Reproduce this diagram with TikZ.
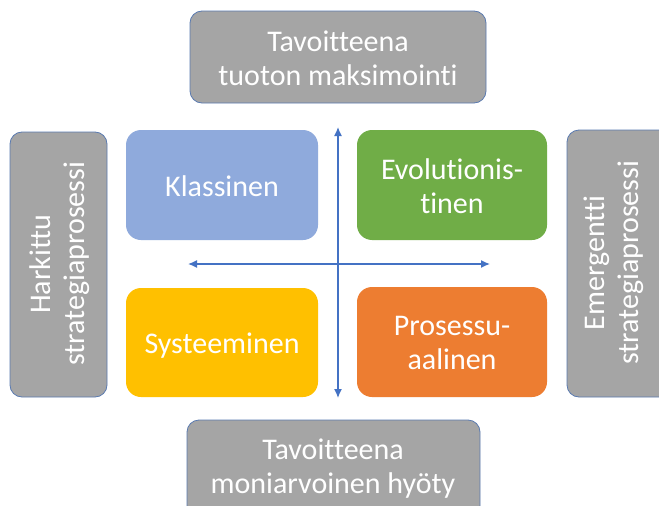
\documentclass[tikz,border=0pt]{standalone}
\usepackage{fontspec}
\setmainfont{Carlito}[Ligatures=NoCommon]
\usetikzlibrary{arrows.meta}
\definecolor{qblue}{HTML}{8FAADC}
\definecolor{qgreen}{HTML}{70AD47}
\definecolor{qgold}{HTML}{FFC000}
\definecolor{qorange}{HTML}{ED7D31}
\definecolor{qgrey}{HTML}{A5A5A5}
\definecolor{qedge}{HTML}{5A7AB0}
\definecolor{qaxis}{HTML}{4472C4}
\tikzset{
  quadrant/.style={rounded corners=15pt},
  sidebox/.style={fill=qgrey, draw=qedge, line width=0.8pt, rounded corners=12pt},
  label/.style={text=white, align=center, font=\fontsize{30}{34}\selectfont},
  axis/.style={draw=qaxis, line width=1.4pt, {Latex[length=9pt,width=8pt]}-{Latex[length=9pt,width=8pt]}}
}
\begin{document}
\begin{tikzpicture}[x=1pt, y=-1pt]
  \clip (0,0) rectangle (659,506);
  \fill[white] (0,0) rectangle (659,506);

  % grey framing boxes
  \draw[sidebox] (190,11) rectangle (486,103);
  \draw[sidebox] (187,420) rectangle (480,530);
  \draw[sidebox] (10,132) rectangle (107,397);
  \draw[sidebox] (567,130) rectangle (690,397);

  \node[label] (top) at (338,58) {Tavoitteena\\tuoton maksimointi};
  \node[label] (bottom) at (333,469) {Tavoitteena\\moniarvoinen hyöty};
  \node[label, rotate=90] (left) at (60,264) {Harkittu\\strategiaprosessi};
  \node[label, rotate=90] (right) at (614,263) {Emergentti\\strategiaprosessi};

  % the four strategy schools
  \fill[quadrant, qblue] (126,130) rectangle (318,240);
  \fill[quadrant, qgreen] (357,130) rectangle (547,240);
  \fill[quadrant, qgold] (126,288) rectangle (318,397);
  \fill[quadrant, qorange] (357,287) rectangle (547,397);

  \node[label] (klass) at (222,186) {Klassinen};
  \node[label] (evol) at (452,186) {Evolutionis-\\tinen};
  \node[label] (syst) at (222,346) {Systeeminen};
  \node[label] (proc) at (452,343) {Prosessu-\\aalinen};

  % axes
  \coordinate (hl) at (188,264);
  \coordinate (hr) at (490,264);
  \coordinate (vt) at (338,127);
  \coordinate (vb) at (338,398);
  \draw[axis] (hl) -- (hr);
  \draw[axis] (vt) -- (vb);
\end{tikzpicture}
\end{document}
